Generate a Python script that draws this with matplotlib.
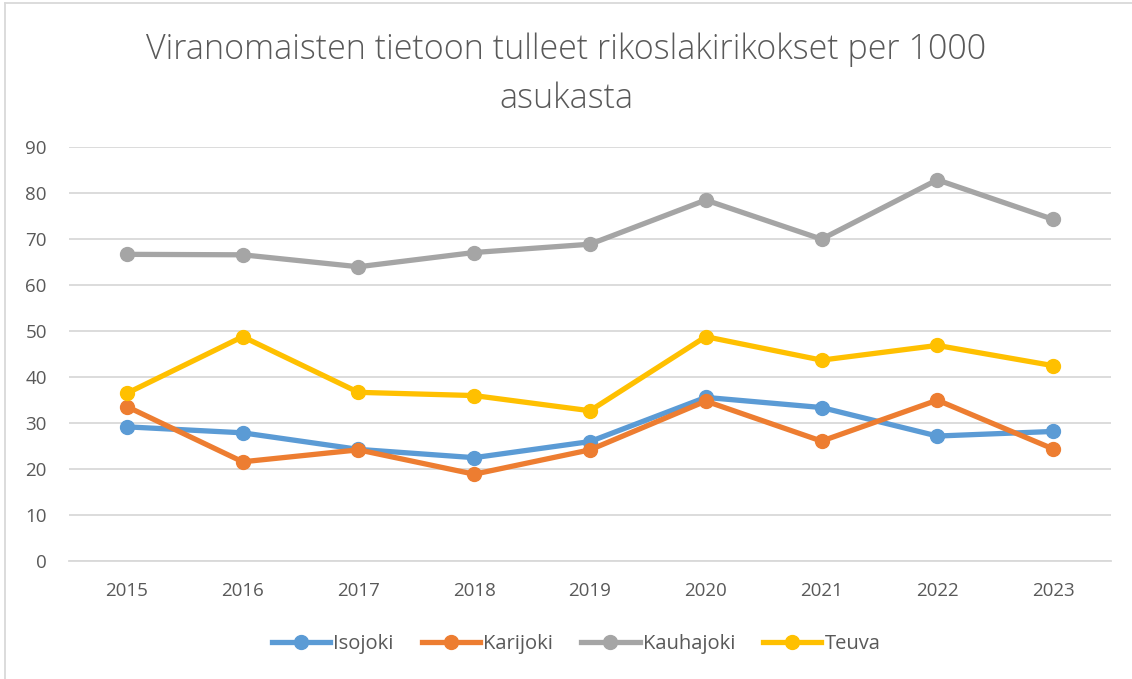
import matplotlib
matplotlib.use("Agg")
import matplotlib.pyplot as plt
from matplotlib.lines import Line2D
import numpy as np

years = ['2015', '2016', '2017', '2018', '2019', '2020', '2021', '2022', '2023']
isojoki   = [29.1, 27.8, 24.2, 22.4, 25.9, 35.5, 33.3, 27.1, 28.1]
karijoki  = [33.5, 21.5, 24.1, 18.8, 24.1, 34.7, 26.0, 34.9, 24.3]
kauhajoki = [66.6, 66.5, 63.9, 67.0, 68.8, 78.4, 69.9, 82.8, 74.2]
teuva     = [36.4, 48.7, 36.6, 35.9, 32.6, 48.7, 43.6, 46.8, 42.4]

series_names = ['Isojoki', 'Karijoki', 'Kauhajoki', 'Teuva']
series_values = [isojoki, karijoki, kauhajoki, teuva]
colors = ['#5B9BD5', '#ED7D31', '#A5A5A5', '#FFC000']

plt.rcParams['font.family'] = ['Open Sans', 'DejaVu Sans']
text_color = '#595959'
grid_color = '#D9D9D9'

fig = plt.figure(figsize=(11.32, 6.79), dpi=100)
ax = fig.add_axes([69/1132, 1-560.7/679, (1111-69)/1132, (560.7-146.7)/679])

x = np.arange(len(years))
for name, vals, c in zip(series_names, series_values, colors):
  ax.plot(x, vals, '-o', color=c, linewidth=3.8, markersize=10, label=name,
          solid_capstyle='round', zorder=3)

ax.set_xlim(-0.5, len(years)-0.5)
ax.set_ylim(0, 90)
ax.set_yticks(np.arange(0, 91, 10))
ax.set_xticks(x)
ax.set_xticklabels(years)
ax.yaxis.grid(True, color=grid_color, linewidth=1.3)
ax.set_axisbelow(True)
for s in ['top', 'right', 'left']:
  ax.spines[s].set_visible(False)
ax.spines['bottom'].set_color(grid_color)
ax.spines['bottom'].set_linewidth(1.3)
ax.tick_params(axis='both', length=0, labelsize=13.5, colors=text_color)
ax.tick_params(axis='x', pad=15)
ax.tick_params(axis='y', pad=16)

fig.text(0.5, 1-74/679, 'Viranomaisten tietoon tulleet rikoslakirikokset per 1000\nasukasta',
         ha='center', va='center', fontsize=24.5, color=text_color, linespacing=1.55,
         fontweight='light')

handles = [Line2D([0], [0], color=c, linewidth=3.8, marker='o', markersize=10) for c in colors]
leg = fig.legend(handles, series_names, loc='center', bbox_to_anchor=(576/1132, 1-644/679),
                 ncol=4, frameon=False, fontsize=14.5, handlelength=2.9, handletextpad=0.15,
                 columnspacing=1.4)
for t in leg.get_texts():
  t.set_color(text_color)

# chart border
fig.add_artist(Line2D([5/1132, 5/1132], [0, 1-3/679], color=grid_color, linewidth=1.3))
fig.add_artist(Line2D([5/1132, 1], [1-3/679, 1-3/679], color=grid_color, linewidth=1.3))

fig.savefig('out.png', dpi=100)
plt.close()
